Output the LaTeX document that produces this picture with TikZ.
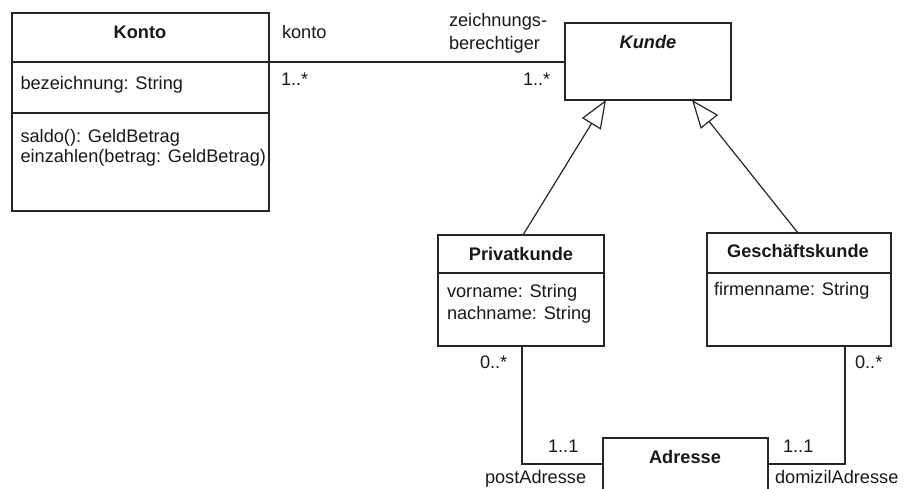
\documentclass[tikz,border=0pt]{standalone}
\usepackage{fontspec}
\setmainfont{Liberation Sans}
\usetikzlibrary{arrows.meta}
\begin{document}
\begin{tikzpicture}[x=0.5pt,y=-0.5pt,
  cls/.style={draw=black!85, line width=0.9pt, inner sep=0pt, outer sep=0pt, anchor=north west, fill=white},
  txt/.style={inner sep=0pt, outer sep=0pt, font=\fontsize{9.1pt}{10pt}\selectfont, text=black!90},
  lt/.style={txt, anchor=base west},
  ttl/.style={txt, anchor=base, font=\fontsize{9.1pt}{10pt}\selectfont\bfseries},
  assoc/.style={draw=black!85, line width=0.6pt},
  gen/.style={draw=black!85, line width=0.6pt, -{Triangle[open, length=14pt, width=11pt, fill=white]}}
]
\useasboundingbox (0,0) rectangle (908,488);

% classes
\node[cls, minimum width=128.5pt, minimum height=99pt] (konto) at (12,13) {};
\node[cls, minimum width=83pt, minimum height=38.5pt] (kunde) at (565,23) {};
\node[cls, minimum width=83pt, minimum height=55.5pt] (privat) at (438,235) {};
\node[cls, minimum width=92pt, minimum height=56.5pt] (gesch) at (707,233) {};
\node[cls, minimum width=82.5pt, minimum height=35pt] (adresse) at (603,438) {};

% compartments
\draw[draw=black!85, line width=0.9pt] (konto.west |- 0,62) -- (konto.east |- 0,62);
\draw[draw=black!85, line width=0.9pt] (konto.west |- 0,113) -- (konto.east |- 0,113);
\draw[draw=black!85, line width=0.9pt] (privat.west |- 0,273) -- (privat.east |- 0,273);
\draw[draw=black!85, line width=0.9pt] (gesch.west |- 0,273) -- (gesch.east |- 0,273);

% texts in classes
\node[ttl] (tkonto) at (140,38) {Konto};
\node[lt] (tbez) at (20.5,89) {bezeichnung: String};
\node[lt] (tsaldo) at (20.5,142) {saldo(): GeldBetrag};
\node[lt] (tein) at (20.5,162) {einzahlen(betrag: GeldBetrag)};
\node[ttl, font=\fontsize{9.1pt}{10pt}\selectfont\bfseries\itshape] (tkunde) at (648,48) {Kunde};
\node[ttl] (tprivat) at (521,260) {Privatkunde};
\node[lt] (tvor) at (447,297) {vorname: String};
\node[lt] (tnach) at (447,319) {nachname: String};
\node[ttl] (tgesch) at (798,257) {Geschäftskunde};
\node[lt] (tfirma) at (714,295) {firmenname: String};
\node[ttl] (tadr) at (685,463) {Adresse};

% connectors
\draw[assoc] (konto.east |- 0,62) -- (kunde.west |- 0,62);
\draw[gen] (privat.north -| 523,0) -- (kunde.south -| 606,0);
\draw[gen] (gesch.north -| 798,0) -- (kunde.south -| 692,0);
\draw[assoc] (privat.south -| 522,0) |- (adresse.west |- 0,464);
\draw[assoc] (gesch.south -| 845,0) |- (adresse.east |- 0,464);

% association labels
\node[lt] (lkonto) at (282,38) {konto};
\node[lt] (lm1) at (281,85) {1..*};
\node[lt] (lz1) at (449,26) {zeichnungs-};
\node[lt] (lz2) at (449,49) {berechtiger};
\node[lt] (lm2) at (523,85) {1..*};
\node[lt] (lm3) at (480,368) {0..*};
\node[lt] (lm4) at (855,368) {0..*};
\node[lt] (lm5) at (548,452) {1..1};
\node[lt] (lm6) at (783,452) {1..1};
\node[lt] (lpost) at (485,483) {postAdresse};
\node[lt] (ldom) at (775,483) {domizilAdresse};
\end{tikzpicture}
\end{document}
